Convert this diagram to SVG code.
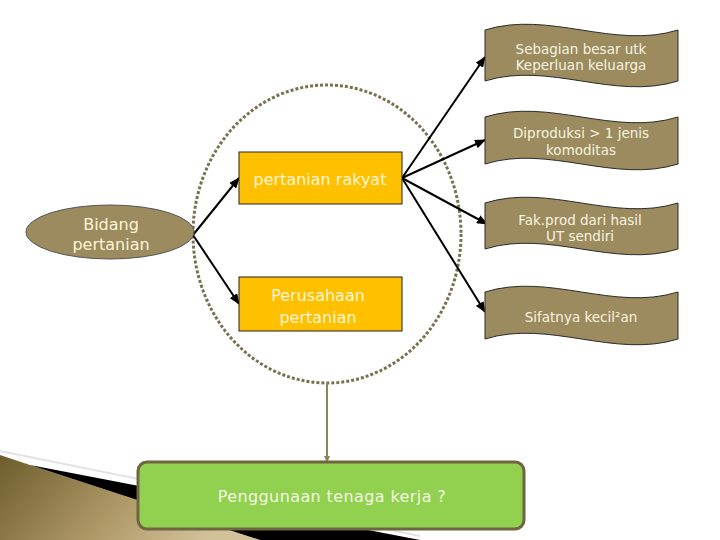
<svg xmlns="http://www.w3.org/2000/svg" width="720" height="540" viewBox="0 0 720 540">
<defs>
<style>
.wave{fill:#9B8B5E;stroke:#2a2a2a;stroke-width:1}
.wt{font-family:"DejaVu Sans",Verdana,sans-serif;font-size:13.5px;fill:#F8F4E0;text-anchor:middle}
.yb{fill:#FFC000;stroke:#222;stroke-width:1}
.yt{font-family:"DejaVu Sans",Verdana,sans-serif;font-size:16px;fill:#FFF6D8;text-anchor:middle}
.conn{stroke:#000;stroke-width:2;fill:none;marker-end:url(#ah)}
</style>
<marker id="ah" markerUnits="userSpaceOnUse" markerWidth="11" markerHeight="9" refX="10" refY="4.5" orient="auto">
<path d="M0,0 L11,4.5 L0,9 z" fill="#000"/>
</marker>
<marker id="ah2" markerUnits="userSpaceOnUse" markerWidth="7" markerHeight="6" refX="6" refY="3" orient="auto">
<path d="M0,0 L7,3 L0,6 z" fill="#8E8358"/>
</marker>
<linearGradient id="tan" x1="0" y1="0" x2="1" y2="0.3">
<stop offset="0" stop-color="#6E5C2C"/>
<stop offset="0.6" stop-color="#B09A68"/>
<stop offset="1" stop-color="#D2C29A"/>
</linearGradient>
</defs>
<rect width="720" height="540" fill="#fff"/>
<g id="decoration">
<polygon points="0,450 420,535 420,537 0,452" fill="#e2e2e2"/>
<polygon points="0,455 30,465 260,540 0,540" fill="url(#tan)"/>
<polygon points="30,465 420,540 260,540" fill="#000"/>
</g>
<g id="group-ellipse">
<ellipse cx="327" cy="234" rx="134" ry="149" fill="none" stroke="#7A7050" stroke-width="3" stroke-dasharray="3 2"/>
</g>
<g id="connectors">
<line class="conn" x1="193" y1="235" x2="239" y2="178"/>
<line class="conn" x1="193" y1="235" x2="239" y2="304"/>
<line class="conn" x1="402" y1="178" x2="485" y2="57"/>
<line class="conn" x1="402" y1="178" x2="485" y2="140"/>
<line class="conn" x1="402" y1="178" x2="487" y2="224"/>
<line class="conn" x1="402" y1="178" x2="485" y2="312"/>
<line x1="327" y1="383" x2="327" y2="462" stroke="#8E8358" stroke-width="2" marker-end="url(#ah2)"/>
</g>
<g id="node-bidang">
<ellipse cx="110" cy="232" rx="84" ry="27" fill="#9B8B5E" stroke="#555" stroke-width="1"/>
<text class="yt" x="111" y="230">Bidang</text>
<text class="yt" x="111" y="250">pertanian</text>
</g>
<g id="node-rakyat">
<rect class="yb" x="239" y="152" width="163" height="52"/>
<text class="yt" x="320" y="185">pertanian rakyat</text>
</g>
<g id="node-perusahaan">
<rect class="yb" x="239" y="277" width="163" height="54"/>
<text class="yt" x="318" y="301">Perusahaan</text>
<text class="yt" x="318" y="323">pertanian</text>
</g>
<g id="node-w1">
<path class="wave" d="M485,30 C549,10 614,50 678,30 L678,81 C614,101 549,61 485,81 Z"/>
<text class="wt" x="581" y="54">Sebagian besar utk</text>
<text class="wt" x="581" y="70">Keperluan keluarga</text>
</g>
<g id="node-w2">
<path class="wave" d="M485,117 C549,97 614,137 678,117 L678,164 C614,184 549,144 485,164 Z"/>
<text class="wt" x="581" y="138">Diproduksi &gt; 1 jenis</text>
<text class="wt" x="581" y="155">komoditas</text>
</g>
<g id="node-w3">
<path class="wave" d="M485,203 C549,183 614,223 678,203 L678,249 C614,269 549,229 485,249 Z"/>
<text class="wt" x="580" y="225">Fak.prod dari hasil</text>
<text class="wt" x="580" y="241">UT sendiri</text>
</g>
<g id="node-w4">
<path class="wave" d="M485,292 C549,272 614,312 678,292 L678,339 C614,359 549,319 485,339 Z"/>
<text class="wt" x="581" y="322">Sifatnya kecil²an</text>
</g>
<g id="node-penggunaan">
<rect x="138" y="462" width="386" height="67" rx="9" fill="#92D050" stroke="#6F6540" stroke-width="3"/>
<text x="332" y="502" font-family="'DejaVu Sans',Verdana,sans-serif" font-size="16" letter-spacing="0.4" fill="#F2F8E0" text-anchor="middle">Penggunaan tenaga kerja ?</text>
</g>
</svg>
